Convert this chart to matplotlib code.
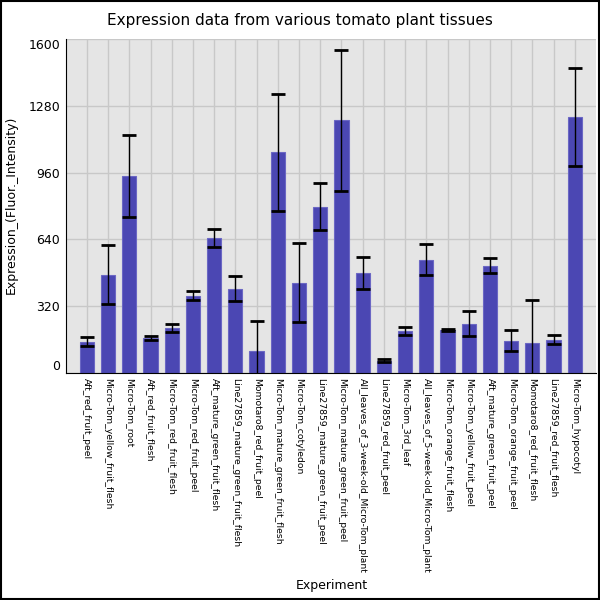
import matplotlib
matplotlib.use("Agg")
import matplotlib.pyplot as plt
import matplotlib.transforms as mtransforms
import numpy as np

categories = [
    "Aft_red_fruit_peel",
    "Micro-Tom_yellow_fruit_flesh",
    "Micro-Tom_root",
    "Aft_red_fruit_flesh",
    "Micro-Tom_red_fruit_flesh",
    "Micro-Tom_red_fruit_peel",
    "Aft_mature_green_fruit_flesh",
    "Line27859_mature_green_fruit_flesh",
    "Momotaro8_red_fruit_peel",
    "Micro-Tom_mature_green_fruit_flesh",
    "Micro-Tom_cotyledon",
    "Line27859_mature_green_fruit_peel",
    "Micro-Tom_mature_green_fruit_peel",
    "All_leaves_of_3-week-old_Micro-Tom_plant",
    "Line27859_red_fruit_peel",
    "Micro-Tom_3rd_leaf",
    "All_leaves_of_5-week-old_Micro-Tom_plant",
    "Micro-Tom_orange_fruit_flesh",
    "Micro-Tom_yellow_fruit_peel",
    "Aft_mature_green_fruit_peel",
    "Micro-Tom_orange_fruit_peel",
    "Momotaro8_red_fruit_flesh",
    "Line27859_red_fruit_flesh",
    "Micro-Tom_hypocotyl",
]
values = [148, 470, 945, 168, 216, 370, 648, 404, 104, 1057, 432, 797, 1211, 477,
          57, 200, 543, 204, 236, 513, 154, 143, 159, 1229]
errors = [22, 142, 198, 10, 19, 20, 43, 58, 143, 282, 190, 114, 337, 77,
          7, 20, 75, 4, 59, 36, 49, 207, 21, 235]
yticks = [0, 320, 640, 960, 1280, 1600]

fig = plt.figure(figsize=(6, 6), dpi=100)
ax = fig.add_axes([0.1095, 0.3788, 0.8838, 0.5557])
ax.set_facecolor("#e5e5e5")
x = np.arange(len(categories))
ax.bar(x, values, width=0.67, color="#4b47b3", edgecolor="#6b67c4", linewidth=0.8, zorder=2)
ax.errorbar(x, values, yerr=errors, fmt="none", ecolor="black", elinewidth=1.0,
            capsize=4.8, capthick=2, zorder=3)
ax.set_xlim(-1, len(categories))
ax.set_ylim(0, 1600)
ax.set_yticks(yticks)
ax.set_yticklabels([str(v) for v in yticks], fontsize=9)
labs = ax.get_yticklabels()
labs[0].set_va("bottom")
labs[-1].set_va("top")
labs[-1].set_transform(labs[-1].get_transform() +
                       mtransforms.ScaledTranslation(0, -3 / 100, fig.dpi_scale_trans))
ax.set_xticks(x)
ax.set_xticklabels(categories, rotation=270, fontsize=6.7, va="top", ha="center")
ax.tick_params(axis="both", length=0, pad=4)
ax.grid(True, color="#c8c8c8", linewidth=1, zorder=0)
ax.set_axisbelow(True)
for s in ["top", "right"]:
    ax.spines[s].set_visible(False)
ax.spines["left"].set_color("black")
ax.spines["bottom"].set_color("black")
ax.set_ylabel("Expression_(Fluor._Intensity)", fontsize=9)
ax.yaxis.set_label_coords(18 / 600, 0.658, transform=fig.transFigure)
fig.text(0.5, 0.965, "Expression data from various tomato plant tissues", ha="center",
         va="center", fontsize=11)
fig.patches.append(plt.Rectangle((0.0015, 0.0015), 0.997, 0.997, transform=fig.transFigure,
                                 fill=False, edgecolor="black", linewidth=1.5))
fig.text(332 / 600, 1 - 585 / 600, "Experiment", ha="center", va="center", fontsize=9)
fig.savefig("out.png", dpi=100)
